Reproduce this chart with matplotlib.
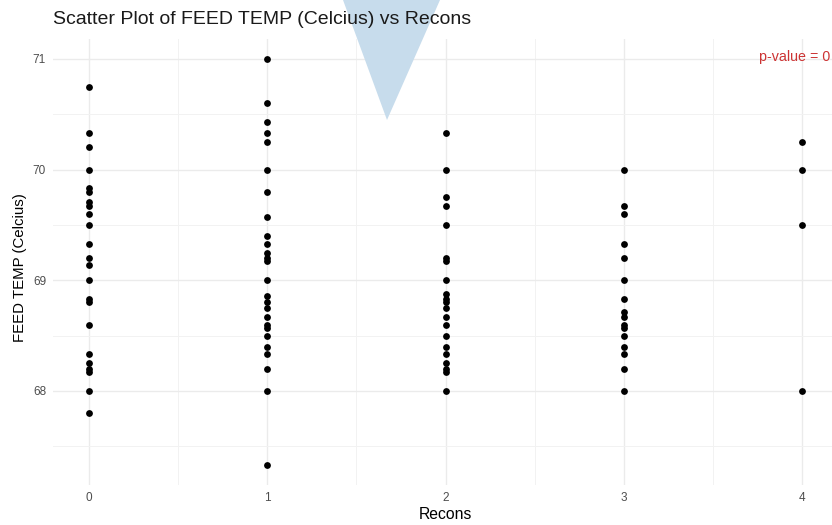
import matplotlib
matplotlib.use("Agg")
import matplotlib.pyplot as plt
from matplotlib.patches import Polygon

plt.rcParams['font.family'] = ['Liberation Sans', 'DejaVu Sans']

# Data: FEED TEMP (Celcius) readings grouped by Recons
recons_0 = [70.75, 70.33, 70.2, 70.0, 69.83, 69.8, 69.71, 69.67, 69.6, 69.5, 69.33,
            69.2, 69.14, 69.0, 68.83, 68.8, 68.6, 68.33, 68.25, 68.2, 68.17, 68.0, 67.8]
recons_1 = [71.0, 70.6, 70.43, 70.33, 70.25, 70.0, 69.8, 69.57, 69.4, 69.33, 69.25,
            69.2, 69.17, 69.0, 68.86, 68.8, 68.75, 68.67, 68.6, 68.57, 68.5, 68.4,
            68.33, 68.2, 68.0, 67.33]
recons_2 = [70.33, 70.0, 69.75, 69.67, 69.5, 69.2, 69.17, 69.0, 68.88, 68.83, 68.8,
            68.75, 68.67, 68.6, 68.5, 68.4, 68.33, 68.25, 68.2, 68.17, 68.0]
recons_3 = [70.0, 69.67, 69.6, 69.33, 69.2, 69.0, 68.83, 68.71, 68.67, 68.6, 68.57,
            68.5, 68.4, 68.33, 68.2, 68.0]
recons_4 = [70.25, 70.0, 69.5, 68.0]
groups = [0, 1, 2, 3, 4]
x_ticks = [0, 1, 2, 3, 4]
y_ticks = [68, 69, 70, 71]
p_label = "p-value = 0"

fig = plt.figure(figsize=(8.32, 5.25), dpi=100)
W, H = 832, 525

# light blue triangle overlay at the top
tri = Polygon([(343 / W, 1.0), (440 / W, 1.0), (387 / W, 1 - 120 / H)],
              closed=True, transform=fig.transFigure, facecolor='#c7dcec',
              edgecolor='none', zorder=0)
fig.patches.append(tri)

ax = fig.add_axes([53 / W, 1 - 485 / H, (838 - 53) / W, (485 - 39) / H])
ax.patch.set_alpha(0)

xs, ys = [], []
for g, vals in zip(groups, [recons_0, recons_1, recons_2, recons_3, recons_4]):
    xs += [g] * len(vals)
    ys += vals
ax.scatter(xs, ys, s=24, color='black', linewidths=0, zorder=3)

ax.set_xlim(-0.2, 4.2)
ax.set_ylim(67.15, 71.18)
ax.set_xticks(x_ticks)
ax.set_yticks(y_ticks)
ax.set_xticks([0.5, 1.5, 2.5, 3.5], minor=True)
ax.set_yticks([67.5, 68.5, 69.5, 70.5], minor=True)
ax.grid(True, which='major', color='#ebebeb', linewidth=1.0, zorder=0)
ax.grid(True, which='minor', color='#f2f2f2', linewidth=0.7, zorder=0)
ax.set_axisbelow(True)
for s in ax.spines.values():
    s.set_visible(False)
ax.tick_params(which='both', length=0)
ax.tick_params(axis='x', pad=5, labelsize=8.5, labelcolor='#4d4d4d')
ax.tick_params(axis='y', pad=5, labelsize=8.5, labelcolor='#4d4d4d')

ax.set_xlabel('Recons', fontsize=11.3, color='black', labelpad=2)
fig.text(20 / W, 1 - 268 / H, 'FEED TEMP (Celcius)', rotation=90, fontsize=10.8,
         ha='center', va='center')
fig.text(53 / W, 1 - 20 / H, 'Scatter Plot of FEED TEMP (Celcius) vs Recons',
         fontsize=14, ha='left', va='center', color='#1a1a1a', zorder=5)
fig.text(830 / W, 1 - 57 / H, p_label, fontsize=10.3, color='#cc3333',
         ha='right', va='center')

fig.savefig('out.png', dpi=100)
